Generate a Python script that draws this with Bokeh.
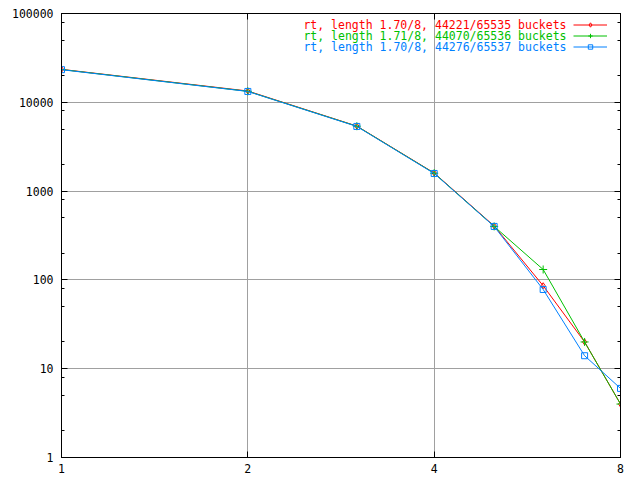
from bokeh.plotting import figure
from bokeh.models import (FixedTicker, NumeralTickFormatter, LogAxis, Legend, LegendItem, Label,
                          CustomJSTickFormatter)
from bokeh.embed import file_html
from bokeh.resources import INLINE

# data
x = [1, 2, 3, 4, 5, 6, 7, 8]
red_vals = [23500, 13400, 5400, 1600, 405, 86, 20, 4]
green_vals = [23400, 13300, 5380, 1590, 400, 131, 20, 4]
blue_vals = [23300, 13250, 5350, 1580, 400, 78, 14, 6]
labels = ["rt, length 1.70/8, 44221/65535 buckets",
          "rt, length 1.71/8, 44070/65536 buckets",
          "rt, length 1.70/8, 44276/65537 buckets"]
x_ticks = [1, 2, 4, 8]
y_ticks = [1, 10, 100, 1000, 10000, 100000]
y_minor = [m * d for d in [1, 10, 100, 1000, 10000] for m in (2, 5, 8)]

FONT = "DejaVu Sans Mono"
FS = "11.5px"

p = figure(width=640, height=480, x_axis_type="log", y_axis_type="log",
           x_range=(1, 8), y_range=(1, 100000),
           output_backend="svg", toolbar_location=None,
           min_border_left=61, min_border_top=13, min_border_right=20, min_border_bottom=23)
p.outline_line_color = "black"
p.outline_line_width = 1

xt = FixedTicker(ticks=x_ticks, minor_ticks=[])
yt = FixedTicker(ticks=y_ticks, minor_ticks=y_minor)

def style_axis(ax, show_labels=True):
    ax.major_tick_in = 6
    ax.major_tick_out = 0
    ax.minor_tick_in = 3
    ax.minor_tick_out = 0
    ax.axis_line_color = "black"
    ax.major_tick_line_color = "black"
    ax.minor_tick_line_color = "black"
    if show_labels:
        ax.formatter = NumeralTickFormatter(format="0")
    else:
        ax.formatter = CustomJSTickFormatter(code="return ''")
    ax.major_label_text_font = FONT
    ax.major_label_text_font_size = FS
    ax.major_label_text_color = "black"

for ax in p.xaxis:
    ax.ticker = xt
    style_axis(ax)
    ax.major_label_standoff = 6
for ax in p.yaxis:
    ax.ticker = yt
    style_axis(ax)
    ax.major_label_standoff = 8

top = LogAxis(ticker=xt)
style_axis(top, False)
top.major_label_standoff = 0
right = LogAxis(ticker=yt)
style_axis(right, False)
right.major_label_standoff = 0
p.add_layout(top, "above")
p.add_layout(right, "right")

p.xgrid.ticker = xt
p.ygrid.ticker = yt
for g in (p.xgrid[0], p.ygrid[0]):
    g.grid_line_color = "#a0a0a0"
    g.grid_line_width = 1

colors = ["#ff0000", "#00c000", "#0080ff"]
markers = ["diamond", "cross", "square"]
sizes = [6, 8, 6]
series = [red_vals, green_vals, blue_vals]
items = []
for vals, c, m, s in zip(series, colors, markers, sizes):
    rl = p.line(x, vals, line_color=c, line_width=1)
    rm = p.scatter(x, vals, marker=m, size=s, line_color=c, fill_color=None, line_width=1)
    items.append(LegendItem(label=" ", renderers=[rl, rm]))

leg = Legend(items=items, location=(512, 405), orientation="vertical",
             glyph_width=34, glyph_height=11, spacing=0, padding=0, margin=0,
             label_width=0, label_standoff=0, label_height=11,
             label_text_font_size="1px", border_line_color=None,
             background_fill_alpha=0)
p.add_layout(leg, "center")

for i, (t, c) in enumerate(zip(labels, colors)):
    p.add_layout(Label(x=505, y=433 - 11 * i, x_units="screen", y_units="screen",
                       text=t, text_color=c, text_font=FONT, text_font_size=FS,
                       text_align="right", text_baseline="middle"))

open("out.html", "w").write(file_html(p, INLINE))
